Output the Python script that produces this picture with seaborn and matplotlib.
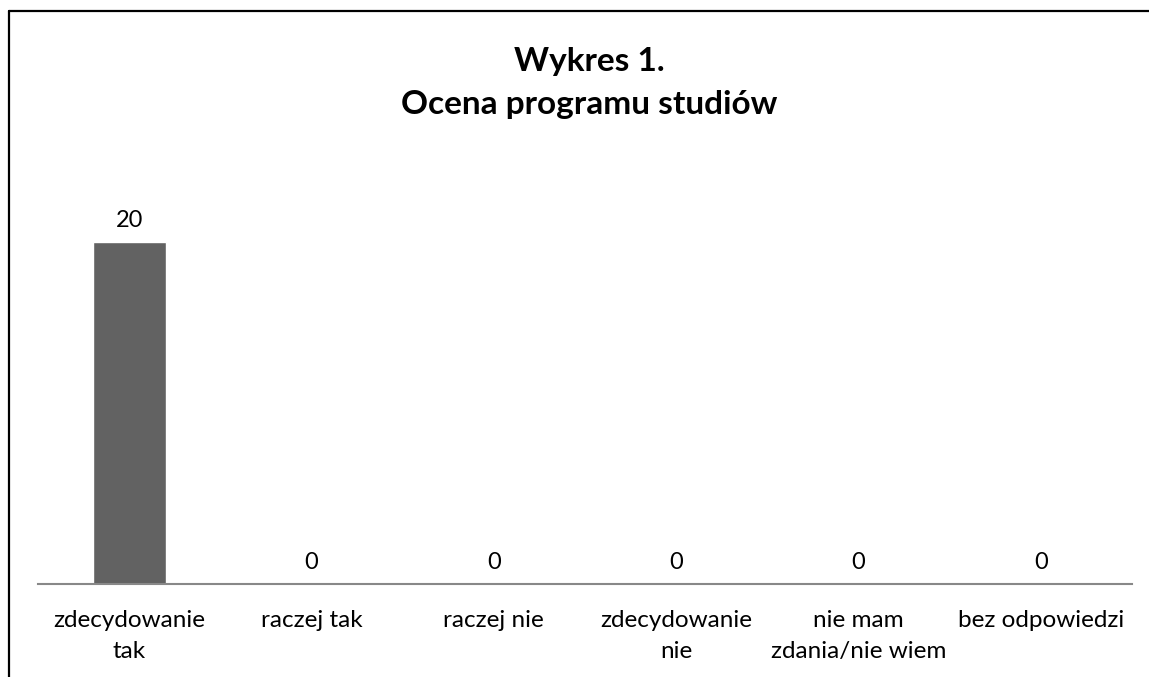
import numpy as np
import pandas as pd
import matplotlib
matplotlib.use("Agg")
import matplotlib.pyplot as plt
from matplotlib.lines import Line2D
import seaborn as sns

categories = ["zdecydowanie\ntak", "raczej tak", "raczej nie", "zdecydowanie\nnie",
              "nie mam\nzdania/nie wiem", "bez odpowiedzi"]
counts = [20, 0, 0, 0, 0, 0]

df = pd.DataFrame({"odp": categories, "n": counts})

sns.set_theme(style="white")
plt.rcParams["font.family"] = ["Lato", "DejaVu Sans"]
plt.rcParams["text.color"] = "black"

W, H = 1149, 677
fig = plt.figure(figsize=(W / 100, H / 100), dpi=100)
bottom_px, top_px = 584, 173.6
ax = fig.add_axes([38 / W, 1 - bottom_px / H, (1132 - 38) / W, (bottom_px - top_px) / H])

sns.barplot(data=df, x="odp", y="n", color="#626262", width=0.4, ax=ax, saturation=1)
ax.set_ylim(0, 24)
ax.set_xlim(-0.5, len(categories) - 0.5)

for i, v in enumerate(counts):
    ax.annotate(str(v), (i, v), xytext=(0, 8), textcoords="offset points",
                ha="center", va="bottom", fontsize=17, color="black")

ax.set_xlabel("")
ax.set_ylabel("")
ax.set_yticks([])
ax.tick_params(axis="x", length=0, pad=19, labelsize=17.5, colors="black")
for lbl in ax.get_xticklabels():
    lbl.set_linespacing(1.55)
for s in ["top", "right", "left"]:
    ax.spines[s].set_visible(False)
ax.spines["bottom"].set_color("#888888")
ax.spines["bottom"].set_linewidth(1.5)

fig.text(589 / W, 1 - 83 / H, "Wykres 1.\nOcena programu studiów", ha="center", va="center",
         fontsize=24, fontweight="bold", linespacing=1.55, color="black")

# outer frame (left and top edges)
fig.add_artist(Line2D([9 / W, 9 / W], [0, 1 - 11 / H], transform=fig.transFigure, color="black", lw=1.6))
fig.add_artist(Line2D([9 / W, 1], [1 - 11 / H, 1 - 11 / H], transform=fig.transFigure, color="black", lw=1.6))

fig.savefig("out.png", dpi=100, facecolor="white")
